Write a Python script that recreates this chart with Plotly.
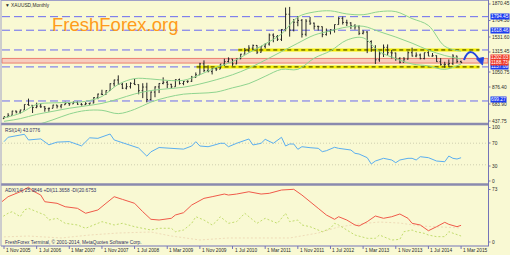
import plotly.graph_objects as go

W, H = 510, 255
def xp(px): return px / W
def yp(py): return 1 - py / H

# ---------------- data ----------------
opens = [470, 495,
         513, 568, 556, 582, 654, 643, 614, 633, 623, 599, 604, 646,
         632, 650, 669, 662, 680, 657, 650, 665, 673, 743, 789, 783,
         834, 923, 972, 916, 865, 885, 928, 912, 833, 880, 718, 815,
         882, 927, 942, 916, 883, 978, 926, 954, 955, 1007, 1040, 1181,
         1096, 1081, 1118, 1113, 1179, 1212, 1244, 1181, 1248, 1307, 1357, 1386,
         1421, 1333, 1410, 1439, 1556, 1536, 1500, 1628, 1826, 1620, 1722, 1746,
         1566, 1737, 1710, 1669, 1664, 1562, 1604, 1622, 1692, 1773, 1719, 1713,
         1675, 1663, 1578, 1595, 1472, 1393, 1234, 1312, 1396, 1326, 1323, 1250,
         1202, 1244, 1326, 1283, 1296, 1250, 1327, 1282, 1287, 1210, 1171, 1175,
         1184, 1283, 1213]
highs = [497, 541,
         572, 574, 586, 654, 730, 643, 677, 664, 633, 614, 650, 649,
         656, 690, 672, 694, 692, 671, 684, 675, 749, 795, 845, 838,
         928, 976, 1032, 935, 932, 942, 988, 915, 930, 936, 823, 889,
         931, 1006, 960, 922, 979, 990, 960, 967, 1025, 1070, 1195, 1227,
         1162, 1128, 1140, 1180, 1249, 1266, 1245, 1250, 1312, 1388, 1424, 1432,
         1424, 1411, 1447, 1576, 1577, 1556, 1632, 1913, 1921, 1764, 1803, 1764,
         1763, 1791, 1718, 1677, 1667, 1640, 1631, 1693, 1788, 1796, 1755, 1723,
         1697, 1683, 1617, 1606, 1487, 1424, 1348, 1433, 1434, 1362, 1327, 1268,
         1270, 1345, 1392, 1331, 1315, 1326, 1345, 1322, 1292, 1256, 1208, 1239,
         1307, 1287, 1223]
lows = [469, 489,
        513, 538, 535, 582, 640, 543, 605, 610, 560, 560, 605, 603,
        603, 650, 636, 662, 650, 641, 647, 649, 670, 723, 775, 780,
        834, 887, 915, 854, 849, 861, 907, 786, 736, 681, 705, 748,
        802, 916, 865, 866, 883, 913, 904, 932, 946, 1002, 1040, 1075,
        1072, 1044, 1088, 1113, 1155, 1198, 1155, 1177, 1242, 1308, 1330, 1359,
        1309, 1328, 1381, 1418, 1462, 1478, 1478, 1605, 1535, 1603, 1670, 1523,
        1540, 1687, 1627, 1614, 1527, 1548, 1564, 1587, 1691, 1692, 1673, 1635,
        1626, 1555, 1565, 1321, 1338, 1180, 1208, 1270, 1292, 1251, 1221, 1187,
        1202, 1237, 1277, 1268, 1240, 1240, 1284, 1274, 1207, 1160, 1131, 1142,
        1167, 1190, 1190]
closes = [495, 513,
          568, 556, 582, 654, 643, 614, 633, 623, 599, 604, 646, 632,
          650, 669, 662, 680, 657, 650, 665, 673, 743, 789, 783, 834,
          923, 972, 916, 865, 885, 928, 912, 833, 880, 718, 815, 882,
          927, 942, 916, 883, 978, 926, 954, 955, 1007, 1040, 1181, 1096,
          1081, 1118, 1113, 1179, 1212, 1244, 1181, 1248, 1307, 1357, 1386, 1421,
          1333, 1410, 1439, 1556, 1536, 1500, 1628, 1826, 1620, 1722, 1746, 1566,
          1737, 1710, 1669, 1664, 1562, 1604, 1622, 1692, 1773, 1719, 1713, 1675,
          1663, 1578, 1595, 1472, 1393, 1234, 1312, 1396, 1326, 1323, 1250, 1202,
          1244, 1326, 1283, 1296, 1250, 1327, 1282, 1287, 1210, 1171, 1175, 1184,
          1283, 1213, 1198]
bar_idx = list(range(len(closes)))   # month 0 = Nov 2005

# Bollinger bands
bb_idx   = [0, 4, 8, 12, 16, 20, 24, 28, 32, 36, 40, 44, 48, 52, 56, 60, 64, 68, 72, 76, 80, 84, 88, 92, 96, 100, 104, 108, 112]
bb_upper = [480, 540, 655, 675, 680, 695, 758, 915, 990, 985, 967, 968, 1040, 1135, 1210, 1325, 1440, 1570, 1790, 1855, 1870, 1830, 1820, 1860, 1860, 1770, 1680, 1410, 1345]
bb_mid   = [435, 470, 525, 565, 605, 635, 668, 725, 790, 835, 857, 878, 920, 975, 1040, 1125, 1230, 1340, 1450, 1555, 1610, 1660, 1670, 1600, 1530, 1450, 1360, 1290, 1245]
bb_lower = [390, 400, 395, 455, 530, 575, 578, 535, 590, 685, 747, 788, 800, 815, 870, 925, 1020, 1110, 1110, 1255, 1350, 1490, 1520, 1340, 1250, 1180, 1155, 1110, 1180]

# RSI(14)
rsi_idx = [0, 1, 5, 6, 9, 11, 13, 16, 19, 21, 23, 26, 27, 30, 33, 35, 36, 38, 41, 42, 44, 46, 47, 48, 50, 51, 53,
           54, 55, 57, 60, 61, 63, 64, 66, 68, 69, 70, 71, 72, 73, 75, 77, 78, 79, 81, 82, 85, 86, 87, 89, 90, 91,
           93, 95, 96, 97, 99, 100, 101, 102, 104, 106, 108, 109, 110, 111, 112]
rsi_val = [72.8, 81, 86.5, 76, 78, 67, 72, 73, 65, 80, 79, 87, 76, 68.5, 61, 46, 54, 62, 60.5, 58.7, 59, 64.8, 72.8,
           64.8, 63.5, 65.4, 69.8, 69.8, 63.5, 69.8, 77.8, 66.7, 69.8, 77.2, 69.8, 80.9, 64.8, 68.5, 68.5, 58.7, 63.5,
           61.7, 60.5, 54.3, 56.1, 62.4, 60.5, 57.4, 51.3, 50, 43.2, 31.5, 37, 42, 38.9, 33.9, 38.9, 42, 42, 38.9, 45,
           43.2, 37, 35.7, 46.3, 42, 40.7, 43.1]

# ADX(14)
adx_idx = [-1, 1, 4, 6, 7, 9, 10, 13, 15, 18, 20, 23, 25, 27, 29, 32, 34, 36, 38, 41, 42, 44, 46, 49, 51, 54, 55,
           57, 60, 63, 65, 68, 71, 73, 77, 79, 81, 82, 84, 86, 87, 89, 91, 93, 95, 97, 99, 100, 102, 104, 106, 108,
           109, 111, 112]
adx_val = [53.5, 62.7, 69.6, 75.8, 71, 65, 55.7, 53.5, 48.7, 46.5, 39.6, 44.2, 53.5, 62.7, 59, 53.5, 41.8, 31.2,
           30.2, 32.6, 37.2, 40.4, 51.1, 60.4, 62.7, 66.4, 65, 66.4, 69.6, 66.4, 67.4, 72, 73, 65, 46.5, 37.2, 31.2,
           34.8, 30.2, 23.3, 21.9, 27.9, 35.8, 32.6, 34.8, 38.6, 32.6, 25.6, 23.3, 15.3, 20.9, 27, 24.2, 20.9, 22.8]
pdi_idx = [-1, 1, 2, 4, 5, 6, 8, 10, 11, 13, 15, 18, 20, 23, 24, 27, 29, 32, 34, 36, 38, 41, 42, 44, 46, 47, 49,
           51, 52, 53, 55, 57, 59, 60, 62, 64, 65, 67, 69, 70, 72, 73, 75, 77, 78, 80, 81, 82, 84, 86, 89, 91, 92,
           93, 95, 97, 98, 100, 101, 103, 104, 106, 108, 109, 110, 111, 112]
pdi_val = [32.6, 39.6, 41.8, 34.8, 44.2, 46.5, 41.8, 37.2, 30.2, 32.6, 25.6, 23.3, 18.7, 25.6, 27.9, 23.3, 25.6,
           20.9, 18.7, 16.3, 18.7, 18.7, 13.9, 16.3, 25.6, 34.8, 30.2, 23.3, 27.9, 34.8, 25.6, 27.9, 39.6, 34.8,
           25.6, 32.6, 30.2, 25.6, 39.6, 27.9, 30.2, 23.3, 20.9, 16.3, 13.9, 18.7, 25.6, 23.3, 16.3, 9.3, 4.7, 4.7,
           9.3, 7, 2.3, 3.3, 13.9, 16.3, 13.9, 11.6, 9.3, 7, 7, 13.9, 11.6, 9.3, 7.9]
mdi_idx = [-1, 6, 14, 21, 28, 36, 41, 48, 55, 63, 70, 77, 82, 87, 92, 97, 102, 107, 112]
mdi_val = [6.5, 7.9, 5.2, 9.3, 12.1, 13.5, 7.9, 2.4, 5.2, 5.2, 5.2, 12.1, 20.5, 24.7, 27.4, 26, 21.9, 20.5, 19.1]

# horizontal levels
blue_levels = [1794.45, 1618.46, 1362, 1142, 699.27]
yellow_levels = [1362, 1142]
yellow_start = [57.4, 47.2]
band_low, band_high = 1192, 1252

date_ticks = [0, 8, 16, 24, 32, 40, 48, 56, 64, 72, 80, 88, 96, 104, 112]
date_labels = ["1 Nov 2005", "1 Jul 2006", "1 Mar 2007", "1 Nov 2007", "1 Jul 2008", "1 Mar 2009",
               "1 Nov 2009", "1 Jul 2010", "1 Mar 2011", "1 Nov 2011", "1 Jul 2012", "1 Mar 2013",
               "1 Nov 2013", "1 Jul 2014", "1 Mar 2015"]

price_labels = [("1870.45", 4), ("1704.30", 20.5), ("1531.60", 37), ("1315.45", 52), ("1050.75", 72),
                ("876.40", 87), ("683.90", 104), ("437.75", 121)]
blue_tags = [("1794.45", 16), ("1618.46", 30), ("1137.09", 67), ("699.27", 100)]
red_tags = [("1202.03", 57.3), ("1188.73", 62)]
rsi_labels = [("100", 127.5), ("70", 143), ("30", 166), ("0", 181)]
adx_labels = [("73", 189.5), ("0", 242)]

# ---------------- figure ----------------
BG = "#F9F9D3"
FONT = "Liberation Sans"
AX = "#7474B8"
FS = 4.8

fig = go.Figure()
fig.add_trace(go.Ohlc(x=bar_idx, open=opens, high=highs, low=lows, close=closes,
                      increasing_line_color="#262626", decreasing_line_color="#262626",
                      line_width=1, tickwidth=0.28, xaxis="x", yaxis="y", hoverinfo="skip"))
bb_col = "#8fd48f"
for arr in (bb_upper, bb_mid, bb_lower):
    fig.add_trace(go.Scatter(x=bb_idx, y=arr, mode="lines", line=dict(color=bb_col, width=1, shape="spline"),
                             xaxis="x", yaxis="y", hoverinfo="skip"))
fig.add_trace(go.Scatter(x=rsi_idx, y=rsi_val, mode="lines", line=dict(color="#5aaef0", width=1),
                         xaxis="x2", yaxis="y2", hoverinfo="skip"))
fig.add_trace(go.Scatter(x=mdi_idx, y=mdi_val, mode="lines", line=dict(color="#efdcb8", width=1, dash="2px,2px"),
                         xaxis="x3", yaxis="y3", hoverinfo="skip"))
fig.add_trace(go.Scatter(x=pdi_idx, y=pdi_val, mode="lines", line=dict(color="#c2dc6e", width=1, dash="2px,2px"),
                         xaxis="x3", yaxis="y3", hoverinfo="skip"))
fig.add_trace(go.Scatter(x=adx_idx, y=adx_val, mode="lines", line=dict(color="#f05a4a", width=1),
                         xaxis="x3", yaxis="y3", hoverinfo="skip"))

XR = [-0.49, 118.6]
xdom = [xp(2), xp(488)]
ax_common = dict(visible=False, range=XR, domain=xdom, fixedrange=True)
fig.update_layout(
    width=W, height=H, margin=dict(l=0, r=0, t=0, b=0),
    paper_bgcolor=BG, plot_bgcolor=BG, showlegend=False,
    xaxis=dict(ax_common, anchor="y", rangeslider=dict(visible=False)),
    xaxis2=dict(ax_common, anchor="y2"),
    xaxis3=dict(ax_common, anchor="y3"),
    yaxis=dict(visible=False, range=[413.2, 1972], domain=[yp(123), yp(3)], anchor="x"),
    yaxis2=dict(visible=False, range=[-3.7, 103.7], domain=[yp(183), yp(125)], anchor="x2"),
    yaxis3=dict(visible=False, range=[-4.6, 77.6], domain=[yp(245), yp(186)], anchor="x3"),
)

shapes = []
# pink band
shapes.append(dict(type="rect", xref="paper", yref="y", x0=xp(2), x1=xp(488), y0=band_low, y1=band_high,
                   fillcolor="#F7CDBE", line=dict(color="#EC8070", width=1), layer="below"))
for lv in blue_levels:
    shapes.append(dict(type="line", xref="paper", yref="y", x0=xp(2), x1=xp(488), y0=lv, y1=lv,
                       line=dict(color="#6a6af0", width=1, dash="8px,4px"), layer="below"))
for lv, start in zip(yellow_levels, yellow_start):
    shapes.append(dict(type="line", xref="x", yref="y", x0=start, x1=116.5, y0=lv, y1=lv,
                       line=dict(color="#F5F000", width=3), layer="below"))
    shapes.append(dict(type="line", xref="x", yref="y", x0=start, x1=116.5, y0=lv, y1=lv,
                       line=dict(color="#303000", width=1, dash="4px,3px"), layer="below"))
# RSI levels
for lv in (70, 30):
    shapes.append(dict(type="line", xref="paper", yref="y2", x0=xp(2), x1=xp(488), y0=lv, y1=lv,
                       line=dict(color="#cfcfb0", width=1, dash="1px,2px"), layer="below"))
# frames
def hline(py, x0=1, x1=489, color=AX, w=1):
    shapes.append(dict(type="line", xref="paper", yref="paper", x0=xp(x0), x1=xp(x1), y0=yp(py), y1=yp(py),
                       line=dict(color=color, width=w)))
def vline(px, y0, y1, color=AX, w=1):
    shapes.append(dict(type="line", xref="paper", yref="paper", x0=xp(px), x1=xp(px), y0=yp(y0), y1=yp(y1),
                       line=dict(color=color, width=w)))
hline(0.5, color="#a0a0c8")
hline(124, color="#8a8aae", w=2.5)
hline(184.5, color="#8a8aae", w=2.5)
hline(246, color=AX)
vline(1, 0, 246, color="#a0a0c8")
vline(488.5, 0, 246, color=AX)
# right axis ticks
for _, py in price_labels + rsi_labels + adx_labels:
    shapes.append(dict(type="line", xref="paper", yref="paper", x0=xp(488.5), x1=xp(490.5), y0=yp(py), y1=yp(py),
                       line=dict(color=AX, width=1)))
# date ticks
for t in date_ticks:
    shapes.append(dict(type="line", xref="x3", yref="paper", x0=t, x1=t, y0=yp(246), y1=yp(249),
                       line=dict(color=AX, width=1)))
# blue arrow
def P(px, py): return f"{xp(px):.5f},{yp(py):.5f}"
shapes.append(dict(type="path", xref="paper", yref="paper",
                   path=f"M {P(464,60)} Q {P(470,44)} {P(479.5,60.5)}",
                   line=dict(color="#2446e0", width=2)))
shapes.append(dict(type="path", xref="paper", yref="paper",
                   path=f"M {P(476.5,59)} L {P(483.5,57.5)} L {P(482.5,65)} Z",
                   fillcolor="#2446e0", line=dict(color="#2446e0", width=1)))
fig.update_layout(shapes=shapes)

ann = []
def txt(text, px, py, size=FS, color="#2a2a2a", xanchor="left", bg=None, fam=FONT):
    d = dict(text=text, xref="paper", yref="paper", x=xp(px), y=yp(py), xanchor=xanchor, yanchor="middle",
             showarrow=False, font=dict(size=size, color=color, family=fam), borderpad=0)
    if bg:
        d["bgcolor"] = bg
    ann.append(d)

for t, py in price_labels + rsi_labels + adx_labels:
    txt(t, 490.5, py)
for t, py in blue_tags:
    txt(t, 489.5, py, color="#ffffff", bg="#1c3cf0")
for t, py in red_tags:
    txt(t, 489.5, py, color="#ffffff", bg="#f03a2a")
for t, lab in zip(date_ticks, date_labels):
    ann.append(dict(text=lab, xref="x3", yref="paper", x=t, y=yp(250.5), xanchor="left", yanchor="middle",
                    showarrow=False, font=dict(size=FS, color="#2a2a2a", family=FONT)))
txt("▼ XAUUSD,Monthly", 4, 5.5)
txt("FreshForex.org", 51, 25, size=18.5, color="#FF9C1A")
txt("RSI(14) 43.0776", 4, 130, color="#303060")
txt("ADX(14) 25.9846 +DI(11.3658 -DI(20.6753", 4, 190, color="#303060")
txt("FreshForex Terminal, © 2001-2014, MetaQuotes Software Corp.", 4, 241.5, color="#303060")
fig.update_layout(annotations=ann)

fig.write_html("out.html")
